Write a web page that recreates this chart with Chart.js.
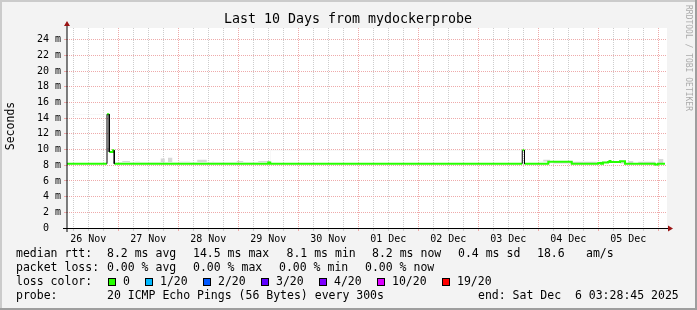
<!DOCTYPE html>
<html>
<head>
<meta charset="utf-8">
<script src="https://cdn.jsdelivr.net/npm/chart.js@4.4.1/dist/chart.umd.min.js"></script>
<style>
  html, body { margin: 0; padding: 0; background: #f3f3f3; }
  #wrap { width: 697px; height: 310px; }
</style>
</head>
<body>
<div id="wrap"><canvas id="ping" width="697" height="310"></canvas></div>
<script>
/* window: Wed Nov 26 03:28:45 -> Sat Dec 6 03:28:45, x is hours since start */
const dayLabels = ["26 Nov", "27 Nov", "28 Nov", "29 Nov", "30 Nov", "01 Dec", "02 Dec", "03 Dec", "04 Dec", "05 Dec"];
const firstMidnight = 20.52; // 27 Nov 00:00
const spanHours = 240;
const yMaxMs = 25.5;

/* median rtt (ms), value holds from each hour until the next */
const medianHours = [0, 16.0, 16.9, 18.4, 18.9, 80.5, 81.3, 182.1, 183.0, 192.5, 201.9, 212.5, 213.6, 214.4, 216.4, 217.0, 217.4, 221.2, 223.2, 235.2, 236.4, 239.2];
const medianMs = [8.2, 14.5, 9.7, 9.9, 8.2, 8.35, 8.2, 9.9, 8.2, 8.45, 8.2, 8.3, 8.2, 8.35, 8.4, 8.55, 8.4, 8.5, 8.2, 8.1, 8.2, 8.2];

/* smoke (ping spread) blobs above the median */
const smokeFrom = [7.1, 9.2, 12.1, 17.1, 19.5, 25.2, 29.2, 34.5, 36.4, 39.1, 42.1, 49.2, 55.9, 57.1, 58.8, 66.5, 70.5, 75.2, 81.2, 84.3, 91.2, 93.2, 98.9, 101.9, 110.5, 115.9, 119.2, 124.3, 127.2, 129.2, 136.3, 146.5, 151.9, 155.2, 159.2, 163.2, 166.1, 171.2, 175.9, 179.2, 188.5, 193.2, 211.9, 223.2, 226.5, 235.2, 238.5];
const smokeTo = [7.6, 11.2, 15.9, 18.4, 22.1, 27.2, 30.5, 35.9, 37.5, 40.4, 44.8, 52.1, 57.1, 58.1, 60.8, 67.9, 71.2, 76.5, 83.2, 87.2, 92.5, 94.5, 100.5, 105.2, 112.5, 117.9, 122.5, 125.2, 128.3, 130.3, 138.5, 150.5, 154.1, 156.5, 160.5, 165.2, 167.2, 172.5, 177.2, 180.4, 190.5, 194.5, 213.2, 224.5, 228.5, 236.5, 239.5];
const smokeTop = [8.4, 8.7, 8.45, 10.2, 8.45, 8.55, 8.45, 8.4, 8.4, 8.85, 8.95, 8.45, 8.7, 8.45, 8.45, 8.4, 8.55, 8.4, 8.55, 8.7, 8.7, 8.5, 8.55, 8.45, 8.45, 8.45, 8.45, 8.45, 8.6, 8.45, 8.7, 8.45, 8.45, 8.55, 8.45, 8.7, 8.7, 8.55, 8.45, 8.45, 8.45, 8.7, 8.45, 8.45, 8.55, 8.45, 8.8];

/* legend texts */
const rttStats = ["8.2 ms avg", "14.5 ms max", "8.1 ms min", "8.2 ms now", "0.4 ms sd", "18.6", "am/s"];
const lossStats = ["0.00 % avg", "0.00 % max", "0.00 % min", "0.00 % now"];
const lossSteps = ["0", "1/20", "2/20", "3/20", "4/20", "10/20", "19/20"];
const lossColors = ["#26ff00", "#00b8ff", "#0059ff", "#5e00ff", "#7e00ff", "#dd00ff", "#ff0000"];
const probeText = "20 ICMP Echo Pings (56 Bytes) every 300s";
const endText = "end: Sat Dec  6 03:28:45 2025";

const MONO = '"DejaVu Sans Mono", monospace';
const GRID = "#cdcdcd";
const MGRID = "#eeaaaa";
const ARROW = "#9a1414";

/* ticks every 6 h, labels at noon */
const xTicks = [];
for (let t = firstMidnight - 18; t < spanHours; t += 6) xTicks.push(t);
const quarterOf = (v) => {
  const k = Math.round((v - firstMidnight) / 6);
  return ((k % 4) + 4) % 4;
};

const medianBase = medianHours.map((h, i) => ({ x: h, y: medianMs[i] }));

const greenPoints = [];
const blackPoints = [];
for (let i = 0; i < medianHours.length - 1; i += 1) {
  greenPoints.push({ x: medianHours[i], y: medianMs[i] });
  greenPoints.push({ x: medianHours[i + 1], y: medianMs[i] });
  if (Math.abs(medianMs[i + 1] - medianMs[i]) > 1) {
    greenPoints.push({ x: medianHours[i + 1], y: null });
    blackPoints.push({ x: medianHours[i + 1], y: medianMs[i] });
    blackPoints.push({ x: medianHours[i + 1], y: medianMs[i + 1] });
    blackPoints.push({ x: medianHours[i + 1], y: null });
  }
}

const smokePoints = [{ x: 0, y: 0 }];
smokeFrom.forEach((h, i) => {
  smokePoints.push({ x: h, y: smokeTop[i] });
  smokePoints.push({ x: smokeTo[i], y: 0 });
});
smokePoints.push({ x: spanHours, y: 0 });

const rrdFrame = {
  id: "rrdFrame",
  beforeDraw(chart) {
    const { ctx, chartArea: a, width, height } = chart;
    ctx.save();
    ctx.fillStyle = "#f3f3f3";
    ctx.fillRect(0, 0, width, height);
    ctx.fillStyle = "#cbcbcb";
    ctx.fillRect(0, 0, width, 2);
    ctx.fillRect(0, 0, 2, height);
    ctx.fillStyle = "#9e9e9e";
    ctx.fillRect(0, height - 2, width, 2);
    ctx.fillRect(width - 2, 0, 2, height);
    ctx.fillStyle = "#ffffff";
    ctx.fillRect(a.left, a.top, a.right - a.left, a.bottom - a.top);
    ctx.restore();
  },
  afterDatasetsDraw(chart) {
    const { ctx, chartArea: a } = chart;
    ctx.save();
    ctx.lineWidth = 1;
    ctx.strokeStyle = "#000";
    ctx.beginPath();
    ctx.moveTo(a.left - 4, a.bottom + 0.5);
    ctx.lineTo(a.right + 2, a.bottom + 0.5);
    ctx.moveTo(a.left, a.bottom + 4);
    ctx.lineTo(a.left, a.top - 3);
    ctx.stroke();
    ctx.fillStyle = ARROW;
    ctx.beginPath();
    ctx.moveTo(a.right + 1, a.bottom - 2.5);
    ctx.lineTo(a.right + 6, a.bottom + 0.5);
    ctx.lineTo(a.right + 1, a.bottom + 3.5);
    ctx.closePath();
    ctx.fill();
    ctx.beginPath();
    ctx.moveTo(a.left - 3, a.top - 2);
    ctx.lineTo(a.left, a.top - 7);
    ctx.lineTo(a.left + 3, a.top - 2);
    ctx.closePath();
    ctx.fill();
    ctx.restore();
  },
  afterDraw(chart) {
    const { ctx } = chart;
    ctx.save();
    ctx.fillStyle = "#000";
    ctx.textBaseline = "middle";

    ctx.font = `13.3px ${MONO}`;
    ctx.textAlign = "center";
    ctx.fillText("Last 10 Days from mydockerprobe", 348, 19.5);

    ctx.save();
    ctx.font = `11.5px ${MONO}`;
    ctx.translate(11, 126);
    ctx.rotate(-Math.PI / 2);
    ctx.fillText("Seconds", 0, 0);
    ctx.restore();

    ctx.save();
    ctx.font = `8px ${MONO}`;
    ctx.fillStyle = "#ababab";
    ctx.textAlign = "left";
    ctx.translate(688, 5);
    ctx.rotate(Math.PI / 2);
    ctx.fillText("RRDTOOL / TOBI OETIKER", 0, 0);
    ctx.restore();

    ctx.font = `11.5px ${MONO}`;
    ctx.textAlign = "left";
    const rowY = [254, 268, 282, 296];
    const rttX = [107, 193, 286.5, 372, 458, 537, 586];
    const lossX = [107, 193, 279, 365];
    const swatchX = [108, 145, 203, 261, 319, 377, 442];

    ctx.fillText("median rtt:", 16, rowY[0]);
    rttStats.forEach((s, i) => ctx.fillText(s, rttX[i], rowY[0]));

    ctx.fillText("packet loss:", 16, rowY[1]);
    lossStats.forEach((s, i) => ctx.fillText(s, lossX[i], rowY[1]));

    ctx.fillText("loss color:", 16, rowY[2]);
    lossSteps.forEach((s, i) => {
      ctx.fillStyle = lossColors[i];
      ctx.fillRect(swatchX[i], rowY[2] - 4, 8, 8);
      ctx.strokeStyle = "#000";
      ctx.lineWidth = 1;
      ctx.strokeRect(swatchX[i] + 0.5, rowY[2] - 3.5, 7, 7);
      ctx.fillStyle = "#000";
      ctx.fillText(s, swatchX[i] + 15, rowY[2]);
    });

    ctx.fillText("probe:", 16, rowY[3]);
    ctx.fillText(probeText, 107, rowY[3]);
    ctx.fillText(endText, 478, rowY[3]);
    ctx.restore();
  },
};

new Chart(document.getElementById("ping"), {
  type: "line",
  data: {
    datasets: [
      {
        label: "median base",
        data: medianBase,
        stepped: "after",
        borderWidth: 0,
        borderColor: "rgba(0,0,0,0)",
        pointRadius: 0,
        fill: false,
        order: 4,
      },
      {
        label: "smoke",
        data: smokePoints,
        stepped: "after",
        borderWidth: 0,
        borderColor: "rgba(0,0,0,0)",
        pointRadius: 0,
        fill: { target: 0, above: "#d8d8d8", below: "rgba(0,0,0,0)" },
        order: 3,
      },
      {
        label: "median rtt",
        data: greenPoints,
        borderColor: lossColors[0],
        borderWidth: 2,
        borderCapStyle: "butt",
        pointRadius: 0,
        spanGaps: false,
        fill: false,
        order: 2,
      },
      {
        label: "jumps",
        data: blackPoints,
        borderColor: "#000",
        borderWidth: 1,
        pointRadius: 0,
        spanGaps: false,
        fill: false,
        order: 1,
      },
    ],
  },
  options: {
    responsive: false,
    animation: false,
    devicePixelRatio: 1,
    layout: { padding: { left: 0, top: 28, right: 30, bottom: 68 } },
    plugins: {
      legend: { display: false },
      tooltip: { enabled: false },
    },
    scales: {
      x: {
        type: "linear",
        min: 0,
        max: spanHours,
        afterFit(scale) { scale.height = 14; },
        afterBuildTicks(scale) { scale.ticks = xTicks.map((v) => ({ value: v })); },
        grid: {
          color: (c) => (quarterOf(c.tick.value) === 0 ? MGRID : GRID),
          tickLength: 3,
          borderDash: [1, 1],
        },
        border: { display: false, dash: [1, 1] },
        ticks: {
          autoSkip: false,
          maxRotation: 0,
          padding: 2,
          color: "#000",
          font: { family: MONO, size: 10 },
          callback: (v) => {
            if (quarterOf(v) !== 2) return "";
            return dayLabels[Math.round((v - firstMidnight + 12) / 24)];
          },
        },
      },
      y: {
        type: "linear",
        min: 0,
        max: yMaxMs,
        afterFit(scale) { scale.width = 67; },
        afterBuildTicks(scale) {
          const t = [];
          for (let v = 0; v <= 25; v += 1) t.push({ value: v });
          scale.ticks = t;
        },
        grid: {
          color: (c) => (c.tick.value % 2 === 0 ? MGRID : GRID),
          tickLength: 3,
          borderDash: [1, 1],
        },
        border: { display: false, dash: [1, 1] },
        ticks: {
          padding: 3,
          color: "#000",
          font: { family: MONO, size: 10 },
          callback: (v) => {
            if (v % 2 !== 0) return "";
            return v === 0 ? "0  " : `${v} m`;
          },
        },
      },
    },
  },
  plugins: [rrdFrame],
});
</script>
</body>
</html>
